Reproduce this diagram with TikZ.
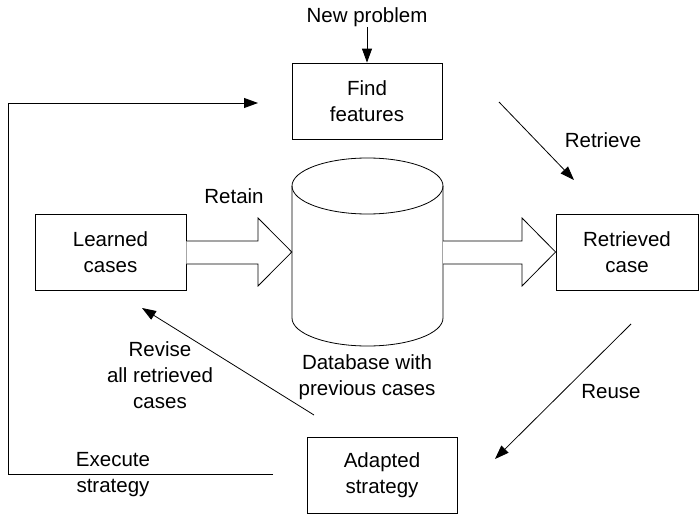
\documentclass[tikz,border=0pt]{standalone}
\usepackage{fontspec}
\setmainfont{Liberation Sans}
\usetikzlibrary{arrows.meta}
\begin{document}
\begin{tikzpicture}[x=1pt,y=-1pt,
  txt/.style={align=center,inner sep=0pt,font=\fontsize{20.5}{26}\selectfont},
  box/.style={draw,line width=0.8pt,align=center,inner sep=0pt,minimum width=150pt,minimum height=76pt,font=\fontsize{20.5}{26}\selectfont},
  conn/.style={line width=0.8pt,-{Triangle[length=14pt,width=10pt]}},
  plain/.style={line width=0.8pt},
  blockarrow/.style={draw,line width=0.8pt,fill=white,line join=miter}]
\useasboundingbox (0,0) rectangle (699,514);
% boxes
\node[box] (find) at (367,101) {Find\\features};
\node[box,minimum width=151pt] (learned) at (110.5,252) {Learned\\cases};
\node[box,minimum width=142pt] (retrieved) at (627,252) {Retrieved\\case};
\node[box] (adapted) at (382,475) {Adapted\\strategy};
% database cylinder
\node[inner sep=0pt,minimum width=151pt,minimum height=188pt] (db) at (367.5,252) {};
\draw[plain] (292,186) -- (292,318) arc[start angle=180,end angle=0,x radius=75.5,y radius=28] -- (443,186);
\draw[plain] (367.5,186) ellipse[x radius=75.5,y radius=28];
% labels
\node[txt] (np) at (367,17) {New problem};
\node[txt] (retrievelbl) at (603,140) {Retrieve};
\node[txt] (retainlbl) at (234,196) {Retain};
\node[txt] (dblbl) at (367,377) {Database with\\previous cases};
\node[txt] (reuselbl) at (611,392) {Reuse};
\node[txt] (reviselbl) at (160,375) {Revise\\all retrieved\\cases};
\node[txt] (execlbl) at (113,475) {Execute\\strategy};
% block arrows
\draw[blockarrow] (learned.east |- 0,241) -- (258,241) -- (258,218) -- (db.west) -- (258,286) -- (258,264) -- (learned.east |- 0,264);
\draw[blockarrow] (db.east |- 0,241) -- (522,241) -- (522,218) -- (retrieved.west) -- (522,286) -- (522,264) -- (db.east |- 0,264);
% connectors
\coordinate (npfoot) at (367,27);
\draw[conn] (npfoot) -- (find.north);
\coordinate (rt1) at (499,102);
\coordinate (rt2) at (574,180);
\draw[conn] (rt1) -- (rt2);
\coordinate (ru1) at (631,324);
\coordinate (ru2) at (495,459);
\draw[conn] (ru1) -- (ru2);
\coordinate (rv1) at (314,415);
\coordinate (rv2) at (142,308);
\draw[conn] (rv1) -- (rv2);
\coordinate (fb0) at (273,474);
\coordinate (fb1) at (8,474);
\coordinate (fb2) at (8,103);
\coordinate (fb3) at (258,103);
\draw[conn] (fb0) -- (fb1) -- (fb2) -- (fb3);
\end{tikzpicture}
\end{document}
